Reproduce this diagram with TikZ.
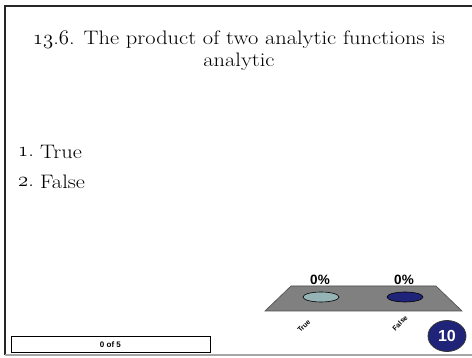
\documentclass[tikz,border=0pt]{standalone}
\usepackage{fontspec}
\usetikzlibrary{shapes.geometric}
\setmainfont{Latin Modern Roman}[FakeStretch=1.15]
\newfontfamily\arialfont{Liberation Sans}
\newcommand\osnum[1]{{\usefont{OML}{cmm}{m}{it}#1}}
\definecolor{navy}{RGB}{32,36,120}
\definecolor{lightteal}{RGB}{150,180,182}
\definecolor{platgray}{RGB}{128,128,128}
\begin{document}
\begin{tikzpicture}[x=1pt,y=-1pt,
  titletext/.style={font=\fontsize{19.5}{22}\selectfont, inner sep=0pt},
  itemtext/.style={font=\fontsize{19.5}{22}\selectfont, inner sep=0pt, anchor=west},
  pcttext/.style={font=\arialfont\bfseries\fontsize{13.5}{13.5}\selectfont, inner sep=0pt},
  axtext/.style={font=\arialfont\bfseries\fontsize{7}{7}\selectfont, inner sep=0pt, rotate=45},
  frameline/.style={line width=1.6pt, draw=black!85}
]
\useasboundingbox (0,0) rectangle (472,358);
\fill[white] (0,0) rectangle (472,358);
% frame
\coordinate (tl) at (5,6);
\coordinate (tr) at (472,6);
\coordinate (bl) at (5,355);
\coordinate (br) at (472,355);
\draw[frameline] (tr) -- (tl) -- (bl);
\draw[line width=1.2pt, draw=black!35] (bl) -- (br);
% title
\node[titletext] (t1) at (239,40) {\osnum{13}.\osnum{6}. The product of two analytic functions is};
\node[titletext] (t2) at (239,62) {analytic};
% items
\node[itemtext] (n1) at (18,152) {\osnum{1}.};
\node[itemtext] (i1) at (40,152) {True};
\node[itemtext] (n2) at (18,182) {\osnum{2}.};
\node[itemtext] (i2) at (40,182) {False};
% platform
\coordinate (p1) at (291,286);
\coordinate (p2) at (436,286);
\coordinate (p3) at (462,311);
\coordinate (p4) at (265,311);
\node[pcttext] (pc1) at (320,280) {0\%};
\node[pcttext] (pc2) at (404,280) {0\%};
\filldraw[fill=platgray, draw=black!70, line width=0.6pt] (p1) -- (p2) -- (p3) -- (p4) -- cycle;
\node[ellipse, draw=black, line width=0.6pt, fill=lightteal, minimum width=36pt, minimum height=10pt, inner sep=0pt] (e1) at (321,297) {};
\node[ellipse, draw=black, line width=0.6pt, fill=navy, minimum width=36pt, minimum height=10pt, inner sep=0pt] (e2) at (405,297) {};
\node[axtext] (ax1) at (304,326) {True};
\node[axtext] (ax2) at (400,323) {False};
% counter
\node[ellipse, draw=black!80, line width=0.8pt, fill=navy, minimum width=38pt, minimum height=31pt, inner sep=0pt,
  font=\arialfont\bfseries\fontsize{16}{16}\selectfont, text=white] (cnt) at (447,336) {10};
% response box
\draw[line width=1.2pt, draw=black!40] (12,352.5) -- (210.5,352.5) -- (210.5,337);
\node[draw=black, line width=0.8pt, minimum width=199pt, minimum height=16pt, inner sep=0pt, anchor=north west,
  font=\arialfont\bfseries\fontsize{8}{8}\selectfont] (resp) at (10.5,336) {0 of 5};
\end{tikzpicture}
\end{document}
